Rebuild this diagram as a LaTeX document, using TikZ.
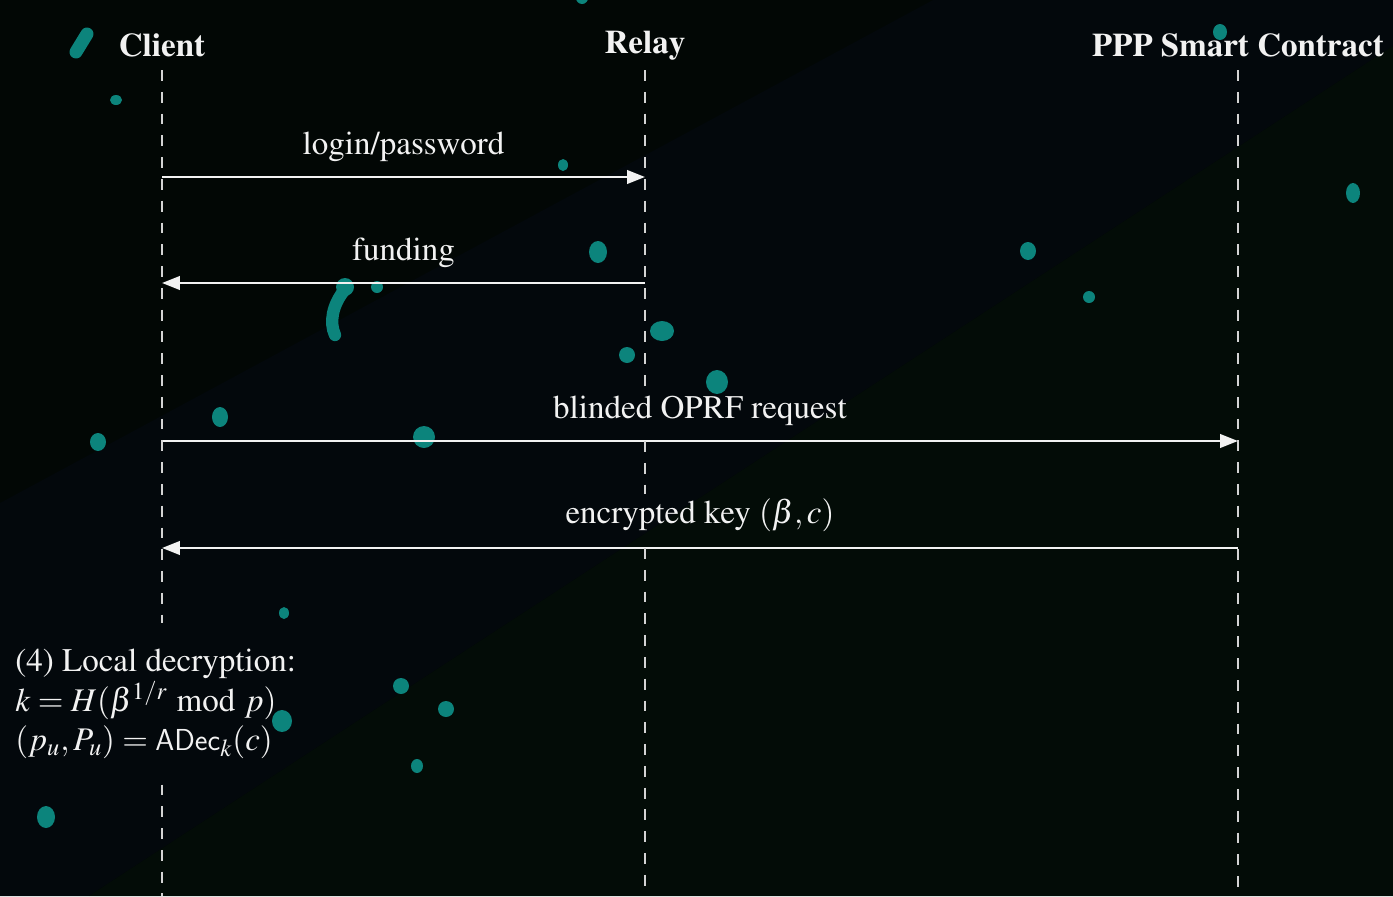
\documentclass[tikz,border=0pt]{standalone}
\usepackage[T1]{fontenc}
\usepackage{mathptmx}
\usetikzlibrary{arrows.meta}

\definecolor{bgtop}{HTML}{020705}
\definecolor{bgband}{HTML}{03080C}
\definecolor{bglow}{HTML}{030C07}
\definecolor{blob}{HTML}{0C847C}
\definecolor{ink}{HTML}{F2F2F2}
\definecolor{lifegray}{HTML}{D4D4D4}

\begin{document}
\begin{tikzpicture}[x=0.02cm,y=-0.02cm,
  every node/.style={text=ink, font=\fontsize{18.8pt}{22.7pt}\selectfont},
  actor/.style={font=\fontsize{18.8pt}{22.7pt}\selectfont\bfseries, inner sep=0pt},
  lifeline/.style={draw=lifegray, line width=1.1pt, dash pattern=on 6.2pt off 6.2pt},
  msg/.style={draw=ink, line width=1.5pt, -{Triangle[length=0.36cm,width=0.27cm]}},
  msglabel/.style={midway, above=0.22cm, inner sep=2pt},
  notebox/.style={align=left, inner xsep=0pt, inner ysep=0.5cm, anchor=west},
  spot/.style={fill=blob},
  streak/.style={draw=blob, line cap=round}]

\useasboundingbox (0,0) rectangle (1393,896);

% background: dark field crossed by a diagonal band
\fill[bgtop] (0,0) rectangle (1393,896);
\fill[bgband] (0,503) -- (933,0) -- (1393,0) -- (1393,46) -- (89,896) -- (0,896) -- cycle;
\fill[bglow] (89,896) -- (1393,46) -- (1393,896) -- cycle;

% scattered teal spots
\draw[streak, line width=7.4pt] (76,52) -- (87,34);
\fill[spot] (116,100) ellipse [x radius=6, y radius=5];
\fill[spot] (582,-2) ellipse [x radius=6, y radius=6];
\fill[spot] (563,165) ellipse [x radius=5, y radius=6];
\fill[spot] (598,252) ellipse [x radius=9, y radius=11];
\fill[spot] (1028,251) ellipse [x radius=8, y radius=9];
\fill[spot] (1089,297) ellipse [x radius=6, y radius=6];
\fill[spot] (1353,193) ellipse [x radius=7, y radius=10];
\fill[spot] (1220,32) ellipse [x radius=7, y radius=8];
\fill[spot] (345,287) ellipse [x radius=9, y radius=9];
\draw[streak, line width=7pt] (343,292) .. controls (333,305) and (329,322) .. (335,335);
\fill[spot] (377,287) ellipse [x radius=6, y radius=6];
\fill[spot] (662,331) ellipse [x radius=12, y radius=10];
\fill[spot] (627,355) ellipse [x radius=8, y radius=8];
\fill[spot] (717,382) ellipse [x radius=11, y radius=12];
\fill[spot] (220,417) ellipse [x radius=8, y radius=10];
\fill[spot] (98,442) ellipse [x radius=8, y radius=9];
\fill[spot] (424,437) ellipse [x radius=11, y radius=11];
\fill[spot] (284,613) ellipse [x radius=5, y radius=6];
\fill[spot] (401,686) ellipse [x radius=8, y radius=8];
\fill[spot] (446,709) ellipse [x radius=8, y radius=8];
\fill[spot] (282,721) ellipse [x radius=10, y radius=11];
\fill[spot] (417,766) ellipse [x radius=6, y radius=7];
\fill[spot] (46,817) ellipse [x radius=9, y radius=11];

% participants
\node[actor] (client) at (162,45) {Client};
\node[actor] (relay) at (645,45) {Relay};
\node[actor] (ppp) at (1238,45) {PPP Smart Contract};

% lifeline ends
\coordinate (cTop) at (162,70);
\coordinate (rTop) at (645,70);
\coordinate (pTop) at (1238,70);
\coordinate (cEnd) at (162,896);
\coordinate (rEnd) at (645,896);
\coordinate (pEnd) at (1238,896);

% message anchors on the lifelines
\coordinate (c1) at (162,177);
\coordinate (r1) at (645,177);
\coordinate (r2) at (645,283);
\coordinate (c2) at (162,283);
\coordinate (c3) at (162,441);
\coordinate (r3) at (645,441);
\coordinate (p3) at (1238,441);
\coordinate (p4) at (1238,548);
\coordinate (r4) at (645,548);
\coordinate (c4) at (162,548);

% messages
\draw[msg] (c1) -- node[msglabel] (lLogin) {login/password} (r1);
\draw[msg] (r2) -- node[msglabel] (lFund) {funding} (c2);
\draw[msg] (c3) -- node[msglabel] (lOprf) {blinded OPRF request} (p3);
\draw[msg] (p4) -- node[msglabel] (lEnc) {encrypted key $(\beta,c)$} (c4);

% local computation on the client side
\node[notebox] (note) at (15,704)
  {(4) Local decryption:\\
   $k = H(\beta^{1/r} \bmod p)$\\
   $(p_u, P_u) = \mathsf{ADec}_k(c)$};

% lifelines, interrupted behind labels
\draw[lifeline] (cTop) -- (cTop |- note.north);
\draw[lifeline] (cTop |- note.south) -- (cEnd);
\draw[lifeline] (rTop) -- (rTop |- lOprf.north);
\draw[lifeline] (r3) -- (rTop |- lEnc.north);
\draw[lifeline] (r4) -- (rEnd);
\draw[lifeline] (pTop) -- (pEnd);

\end{tikzpicture}
\end{document}
